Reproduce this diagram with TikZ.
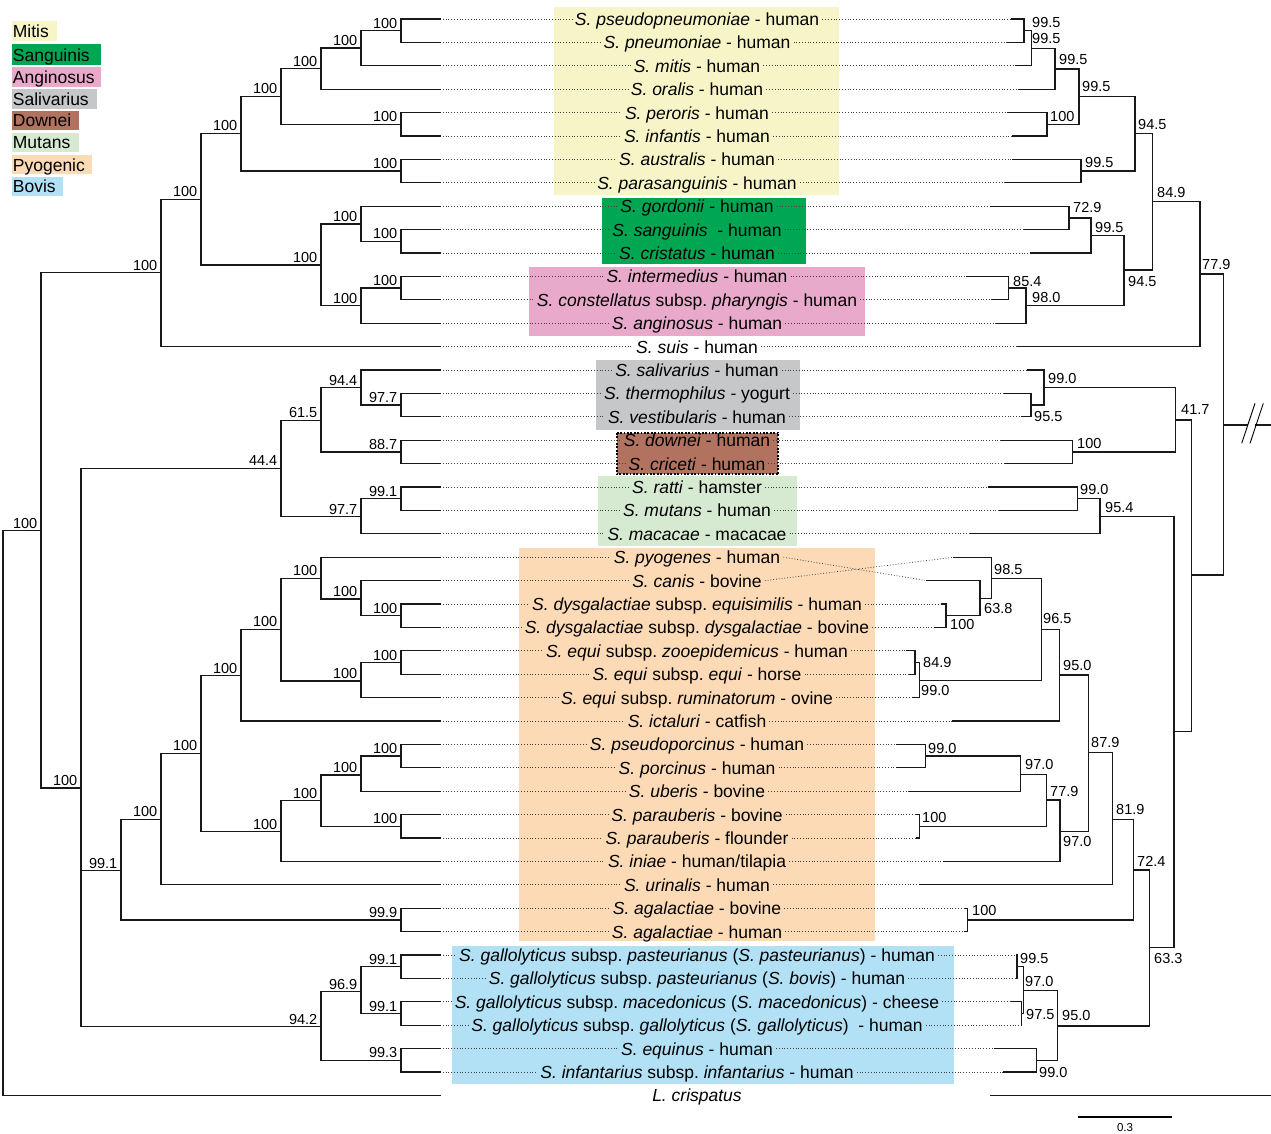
\documentclass[tikz,border=0pt]{standalone}
\usepackage{fontspec}
\setmainfont{Liberation Sans}
\definecolor{cMitis}{HTML}{F7F5C7}
\definecolor{cSang}{HTML}{00A651}
\definecolor{cAng}{HTML}{E9A9CB}
\definecolor{cSal}{HTML}{C6C7C9}
\definecolor{cDown}{HTML}{B1735F}
\definecolor{cMut}{HTML}{D6EAD2}
\definecolor{cPyo}{HTML}{FDDAB6}
\definecolor{cBov}{HTML}{B2E1F5}
\newcommand{\taxrow}[4]{%
  \coordinate (L#1) at (440,#2);
  \coordinate (R#1) at (#3);
  \node[taxon] (T#1) at (697,#2) {#4};
  \draw[dotl] (L#1) -- (L#1 -| T#1.west);
  \draw[dotl] (T#1.east |- L#1) -- (R#1);
}
\begin{document}
\frenchspacing
\begin{tikzpicture}[x=1pt,y=-1pt,
  br/.style={line width=1.3pt, black!90, line cap=rect},
  dotl/.style={line width=0.8pt, black!75, dash pattern=on 0.8pt off 2pt},
  taxon/.style={font=\fontsize{17.5}{20}\selectfont, anchor=base, yshift=-6.5pt, inner xsep=3pt, inner ysep=0pt},
  bsl/.style={font=\fontsize{14.5}{16}\selectfont, anchor=base east, xshift=-3.5pt, yshift=2.5pt, inner sep=0pt},
  bsr/.style={font=\fontsize{14.5}{16}\selectfont, anchor=west, inner sep=0pt},
  legt/.style={font=\fontsize{17.5}{20}\selectfont, anchor=base west, inner sep=0pt}]
\useasboundingbox (0,0) rectangle (1271,1134);
\fill[white] (0,0) rectangle (1271,1134);

% legend
\fill[cMitis] (12,21) rectangle (57,40.7);
\fill[cSang] (12,44) rectangle (101,64.7);
\fill[cAng] (12,66.7) rectangle (101,86.7);
\fill[cSal] (12,89.3) rectangle (96.7,108.7);
\fill[cDown] (12,111) rectangle (79,130);
\fill[cMut] (12,133.3) rectangle (79,152);
\fill[cPyo] (12,155.3) rectangle (92,174.3);
\fill[cBov] (12,177) rectangle (63,196);
\node[legt] (g1) at (12.7,37.5) {Mitis};
\node[legt] (g2) at (12.7,61.5) {Sanguinis};
\node[legt] (g3) at (12.7,83.5) {Anginosus};
\node[legt] (g4) at (12.7,105.5) {Salivarius};
\node[legt] (g5) at (12.7,126.8) {Downei};
\node[legt] (g6) at (12.7,148.8) {Mutans};
\node[legt] (g7) at (12.7,171.1) {Pyogenic};
\node[legt] (g8) at (12.7,192.8) {Bovis};

% group boxes
\fill[cMitis] (554,6.7) rectangle (839,194.7);
\fill[cSang] (602,198) rectangle (806,264);
\fill[cAng] (529,267) rectangle (865,335.7);
\fill[cSal] (596,360) rectangle (800,430);
\fill[cDown] (616.7,432.7) rectangle (778.3,474.3);
\draw[line width=1.8pt, dash pattern=on 1.8pt off 1.6pt] (616.7,432.7) rectangle (778.3,474.3);
\fill[cMut] (598,476) rectangle (797,545.7);
\fill[cPyo] (519,548.3) rectangle (875,940.7);
\fill[cBov] (452,946) rectangle (954,1084);

% taxa
\taxrow{1}{19}{1012,19}{\textit{S. pseudopneumoniae} - human}
\taxrow{2}{42.4}{1008,42.4}{\textit{S. pneumoniae} - human}
\taxrow{3}{65.8}{1016,65.8}{\textit{S. mitis} - human}
\taxrow{4}{89.2}{1020,89.2}{\textit{S. oralis} - human}
\taxrow{5}{112.6}{1007.7,112.6}{\textit{S. peroris} - human}
\taxrow{6}{136}{1013,136}{\textit{S. infantis} - human}
\taxrow{7}{159.4}{1013,159.4}{\textit{S. australis} - human}
\taxrow{8}{182.8}{1005.7,182.8}{\textit{S. parasanguinis} - human}
\taxrow{9}{206.2}{991,206.2}{\textit{S. gordonii} - human}
\taxrow{10}{229.6}{1025,229.6}{\textit{S. sanguinis}\ \ - human}
\taxrow{11}{253}{1031,253}{\textit{S. cristatus} - human}
\taxrow{12}{276.4}{967,276.4}{\textit{S. intermedius} - human}
\taxrow{13}{299.8}{991.7,299.8}{\textit{S. constellatus} subsp. \textit{pharyngis} - human}
\taxrow{14}{323.2}{997,323.2}{\textit{S. anginosus} - human}
\taxrow{15}{346.6}{1018,346.6}{\textit{S. suis} - human}
\taxrow{16}{370}{1028,370}{\textit{S. salivarius} - human}
\taxrow{17}{393.4}{1005,393.4}{\textit{S. thermophilus} - yogurt}
\taxrow{18}{416.8}{1022,416.8}{\textit{S. vestibularis} - human}
\taxrow{19}{440.2}{1001.7,440.2}{\textit{S. downei} - human}
\taxrow{20}{463.6}{1006,463.6}{\textit{S. criceti} - human}
\taxrow{21}{487}{988.3,487}{\textit{S. ratti} - hamster}
\taxrow{22}{510.4}{1000,510.4}{\textit{S. mutans} - human}
\taxrow{23}{533.8}{971,533.8}{\textit{S. macacae} - macacae}
\taxrow{24}{557.2}{926.7,580.6}{\textit{S. pyogenes} - human}
\taxrow{25}{580.6}{954,557.2}{\textit{S. canis} - bovine}
\taxrow{26}{604}{941.7,604}{\textit{S. dysgalactiae} subsp. \textit{equisimilis} - human}
\taxrow{27}{627.4}{935,627.4}{\textit{S. dysgalactiae} subsp. \textit{dysgalactiae} - bovine}
\taxrow{28}{650.8}{907,650.8}{\textit{S. equi} subsp. \textit{zooepidemicus} - human}
\taxrow{29}{674.2}{910,674.2}{\textit{S. equi} subsp. \textit{equi} - horse}
\taxrow{30}{697.6}{913,697.6}{\textit{S. equi} subsp. \textit{ruminatorum} - ovine}
\taxrow{31}{721}{952.3,721}{\textit{S. ictaluri} - catfish}
\taxrow{32}{744.4}{896.7,744.4}{\textit{S. pseudoporcinus} - human}
\taxrow{33}{767.8}{896.7,767.8}{\textit{S. porcinus} - human}
\taxrow{34}{791.2}{909.3,791.2}{\textit{S. uberis} - bovine}
\taxrow{35}{814.6}{917,814.6}{\textit{S. parauberis} - bovine}
\taxrow{36}{838}{917,838}{\textit{S. parauberis} - flounder}
\taxrow{37}{861.4}{943.3,861.4}{\textit{S. iniae} - human/tilapia}
\taxrow{38}{884.8}{920,884.8}{\textit{S. urinalis} - human}
\taxrow{39}{908.2}{965,908.2}{\textit{S. agalactiae} - bovine}
\taxrow{40}{931.6}{965,931.6}{\textit{S. agalactiae} - human}
\taxrow{41}{955}{1016.7,955}{\textit{S. gallolyticus} subsp. \textit{pasteurianus} (\textit{S. pasteurianus}) - human}
\taxrow{42}{978.4}{1016.7,978.4}{\textit{S. gallolyticus} subsp. \textit{pasteurianus} (\textit{S. bovis}) - human}
\taxrow{43}{1001.8}{1011.7,1001.8}{\textit{S. gallolyticus} subsp. \textit{macedonicus} (\textit{S. macedonicus}) - cheese}
\taxrow{44}{1025.2}{1021.7,1025.2}{\textit{S. gallolyticus} subsp. \textit{gallolyticus} (\textit{S. gallolyticus})\ \ - human}
\taxrow{45}{1048.6}{995,1048.6}{\textit{S. equinus} - human}
\taxrow{46}{1072}{1003.3,1072}{\textit{S. infantarius} subsp. \textit{infantarius} - human}
% outgroup: no dotted leaders
\coordinate (L47) at (440,1095.4);
\coordinate (R47) at (990.7,1095.4);
\node[taxon] (T47) at (697,1095.4) {\textit{L. crispatus}};

% left tree internal nodes
\coordinate (nRoot) at (3,530.7);
\coordinate (nA) at (41,530.7);
\coordinate (nB) at (161,272.7);
\coordinate (nC) at (81,788);
\coordinate (nD) at (201,199.3);
\coordinate (nE) at (241,133.3);
\coordinate (nF) at (321,265);
\coordinate (nG) at (281,96.3);
\coordinate (nH) at (401,171.1);
\coordinate (nI) at (321,68.7);
\coordinate (nJ) at (401,124.3);
\coordinate (nK) at (361,48);
\coordinate (nM) at (401,30.7);
\coordinate (nN) at (361,224);
\coordinate (nO) at (361,305.7);
\coordinate (nP) at (401,241.3);
\coordinate (nQ) at (401,288.1);
\coordinate (nR) at (281,468.3);
\coordinate (nS) at (121,870.7);
\coordinate (nT) at (321,1026.7);
\coordinate (nU) at (321,420.3);
\coordinate (nV) at (361,516.7);
\coordinate (nW) at (361,387.7);
\coordinate (nX) at (401,452);
\coordinate (nY) at (401,405.1);
\coordinate (nZ) at (401,498.7);
\coordinate (nAA) at (161,819.3);
\coordinate (nAB) at (401,919.9);
\coordinate (nAC) at (201,753.3);
\coordinate (nAD) at (241,675.7);
\coordinate (nAE) at (281,831.7);
\coordinate (nAF) at (281,629.3);
\coordinate (nAG) at (321,578.3);
\coordinate (nAH) at (361,681);
\coordinate (nAI) at (361,599);
\coordinate (nAJ) at (401,615.7);
\coordinate (nAK) at (401,662.5);
\coordinate (nAL) at (321,800.7);
\coordinate (nAM) at (361,775);
\coordinate (nAN) at (401,826.3);
\coordinate (nAO) at (401,756.1);
\coordinate (nAP) at (361,991.7);
\coordinate (nAQ) at (401,1060.3);
\coordinate (nAR) at (401,966.7);
\coordinate (nAS) at (401,1013.5);

\foreach \p/\c in {nRoot/nA, nRoot/L47, nA/nB, nA/nC, nB/nD, nB/L15, nD/nE, nD/nF,
  nE/nG, nE/nH, nG/nI, nG/nJ, nI/nK, nI/L4, nK/nM, nK/L3, nM/L1, nM/L2, nJ/L5, nJ/L6,
  nH/L7, nH/L8, nF/nN, nF/nO, nN/L9, nN/nP, nP/L10, nP/L11, nO/nQ, nO/L14, nQ/L12, nQ/L13,
  nC/nR, nC/nS, nC/nT, nR/nU, nR/nV, nU/nW, nU/nX, nW/L16, nW/nY, nY/L17, nY/L18,
  nX/L19, nX/L20, nV/nZ, nV/L23, nZ/L21, nZ/L22, nS/nAA, nS/nAB, nAB/L39, nAB/L40,
  nAA/nAC, nAA/L38, nAC/nAD, nAC/nAE, nAD/nAF, nAD/L31, nAF/nAG, nAF/nAH, nAG/L24, nAG/nAI,
  nAI/L25, nAI/nAJ, nAJ/L26, nAJ/L27, nAH/nAK, nAH/L30, nAK/L28, nAK/L29, nAE/nAL, nAE/L37,
  nAL/nAM, nAL/nAN, nAM/nAO, nAM/L34, nAO/L32, nAO/L33, nAN/L35, nAN/L36, nT/nAP, nT/nAQ,
  nAP/nAR, nAP/nAS, nAR/L41, nAR/L42, nAS/L43, nAS/L44, nAQ/L45, nAQ/L46}
  \draw[br] (\p) |- (\c);

\foreach \n/\v in {nA/100, nB/100, nC/100, nD/100, nE/100, nG/100, nI/100, nK/100, nM/100,
  nJ/100, nH/100, nF/100, nN/100, nP/100, nO/100, nQ/100, nR/44.4, nS/99.1, nT/94.2,
  nU/61.5, nV/97.7, nW/94.4, nX/88.7, nY/97.7, nZ/99.1, nAA/100, nAB/99.9, nAC/100,
  nAD/100, nAE/100, nAF/100, nAG/100, nAH/100, nAI/100, nAJ/100, nAK/100, nAL/100,
  nAM/100, nAN/100, nAO/100, nAP/96.9, nAQ/99.3, nAR/99.1, nAS/99.1}
  \node[bsl] (b\n) at (\n) {\v};

% right tree internal nodes
\coordinate (rM1) at (1024,30.7);
\coordinate (rK) at (1031.7,48.3);
\coordinate (rI) at (1055,69);
\coordinate (rJ) at (1047,124.3);
\coordinate (rG) at (1079,96.7);
\coordinate (rH) at (1081,171.1);
\coordinate (rE) at (1135,133.3);
\coordinate (rP) at (1069,218);
\coordinate (rN) at (1091,235.3);
\coordinate (rQ) at (1008.5,288.1);
\coordinate (rO) at (1026,305.7);
\coordinate (rF) at (1124,270);
\coordinate (rD) at (1152.7,201.7);
\coordinate (rB) at (1200,274);
\coordinate (rRoot) at (1223.3,425);
\coordinate (rX) at (1191.7,575);
\coordinate (rW) at (1175.3,420);
\coordinate (rSal) at (1044,387.7);
\coordinate (rY2) at (1031,405.1);
\coordinate (rDow) at (1072.3,452);
\coordinate (rY) at (1174,731.7);
\coordinate (rMut) at (1100,516.7);
\coordinate (rZ) at (1077.7,498.7);
\coordinate (r633) at (1149.3,947.7);
\coordinate (r724) at (1133.3,870);
\coordinate (rAga) at (967.3,919.9);
\coordinate (r819) at (1112.3,819.3);
\coordinate (r879) at (1088.3,752.7);
\coordinate (r950) at (1059.3,675);
\coordinate (r965) at (1041.7,629.3);
\coordinate (r985) at (991.7,578.3);
\coordinate (r638) at (980,598.3);
\coordinate (rDys) at (946,615.7);
\coordinate (r990) at (919.3,680.7);
\coordinate (r849) at (915,662.5);
\coordinate (r970b) at (1060,831.7);
\coordinate (r779) at (1046.7,800);
\coordinate (r970a) at (1020.7,774.3);
\coordinate (r990b) at (925.3,756.1);
\coordinate (rPar) at (919.3,826.3);
\coordinate (rBov) at (1057.3,1026);
\coordinate (r970c) at (1023.3,990.7);
\coordinate (r995) at (1017,966.7);
\coordinate (r975) at (1021.7,1013.5);
\coordinate (r990c) at (1036.7,1060.3);

\foreach \p/\c in {rM1/R1, rM1/R2, rK/rM1, rK/R3, rI/rK, rI/R4, rJ/R5, rJ/R6, rG/rI, rG/rJ,
  rH/R7, rH/R8, rE/rG, rE/rH, rP/R9, rP/R10, rN/rP, rN/R11, rQ/R12, rQ/R13, rO/rQ, rO/R14,
  rF/rN, rF/rO, rD/rE, rD/rF, rB/rD, rB/R15, rRoot/rB, rRoot/rX, rX/rW, rX/rY, rW/rSal,
  rW/rDow, rSal/R16, rSal/rY2, rY2/R17, rY2/R18, rDow/R19, rDow/R20, rY/rMut, rY/r633,
  rMut/rZ, rMut/R23, rZ/R21, rZ/R22, r633/r724, r633/rBov, r724/r819, r724/rAga,
  rAga/R39, rAga/R40, r819/r879, r819/R38, r879/r950, r879/r970b, r950/r965, r950/R31,
  r965/r985, r965/r990, r985/R25, r985/r638, r638/R24, r638/rDys, rDys/R26, rDys/R27,
  r990/r849, r990/R30, r849/R28, r849/R29, r970b/r779, r970b/R37, r779/r970a, r779/rPar,
  r970a/r990b, r970a/R34, r990b/R32, r990b/R33, rPar/R35, rPar/R36, rBov/r970c, rBov/r990c,
  r970c/r995, r970c/r975, r995/R41, r995/R42, r975/R43, r975/R44, r990c/R45, r990c/R46}
  \draw[br] (\p) |- (\c);

\coordinate (Rend) at (1271,1095.4);
\draw[br] (R47) -- (Rend);

% root with break
\coordinate (bk1) at (1247.8,425);
\coordinate (bk2) at (1256.1,425);
\coordinate (rEnd) at (1271,425);
\draw[br] (rRoot) -- (bk1);
\draw[br] (bk2) -- (rEnd);
\draw[line width=0.9pt] (1241.7,443.3) -- (1255,403.3);
\draw[line width=0.9pt] (1250,443.3) -- (1263.3,403.3);

\foreach \n/\xx/\yy/\v in {rM1/1032/23/99.5, rK/1032/39/99.5, rI/1059/60/99.5, rG/1082/87/99.5,
  rJ/1050/117/100, rH/1085/163/99.5, rE/1138/125/94.5, rD/1157/193/84.9, rB/1202/265/77.9,
  rP/1073/208/72.9, rN/1095/228/99.5, rF/1128/282/94.5, rQ/1013/281.7/85.4, rO/1032/298/98.0,
  rSal/1048/379/99.0, rY2/1034/416.7/95.5, rW/1181/410/41.7, rDow/1077/443.3/100,
  rZ/1080/490/99.0, rMut/1105/507.7/95.4, r985/994/570/98.5, r638/984/609/63.8,
  rDys/950/625/100, r965/1043/619/96.5, r849/923/662.7/84.9, r990/921/691/99.0,
  r950/1063/666/95.0, r990b/928/748.3/99.0, r970a/1025/765/97.0, r779/1050/792/77.9,
  r879/1091/743/87.9, rPar/922/817.7/100, r819/1116/810/81.9, r970b/1063/841.7/97.0,
  r724/1137/861.7/72.4, rAga/972/910.7/100, r633/1154/958/63.3, r995/1020/958.3/99.5,
  r970c/1025/981/97.0, r975/1026/1014/97.5, rBov/1062/1015.7/95.0, r990c/1039/1072.7/99.0}
  \node[bsr] (c\n) at (\xx,\yy) {\v};

% scale bar
\coordinate (sb1) at (1078.3,1116.7);
\coordinate (sb2) at (1171.7,1116.7);
\draw[line width=1.6pt] (sb1) -- (sb2);
\node[font=\fontsize{11.5}{13}\selectfont, inner sep=0pt] (sbl) at (1125,1127.5) {0.3};
\end{tikzpicture}
\end{document}
